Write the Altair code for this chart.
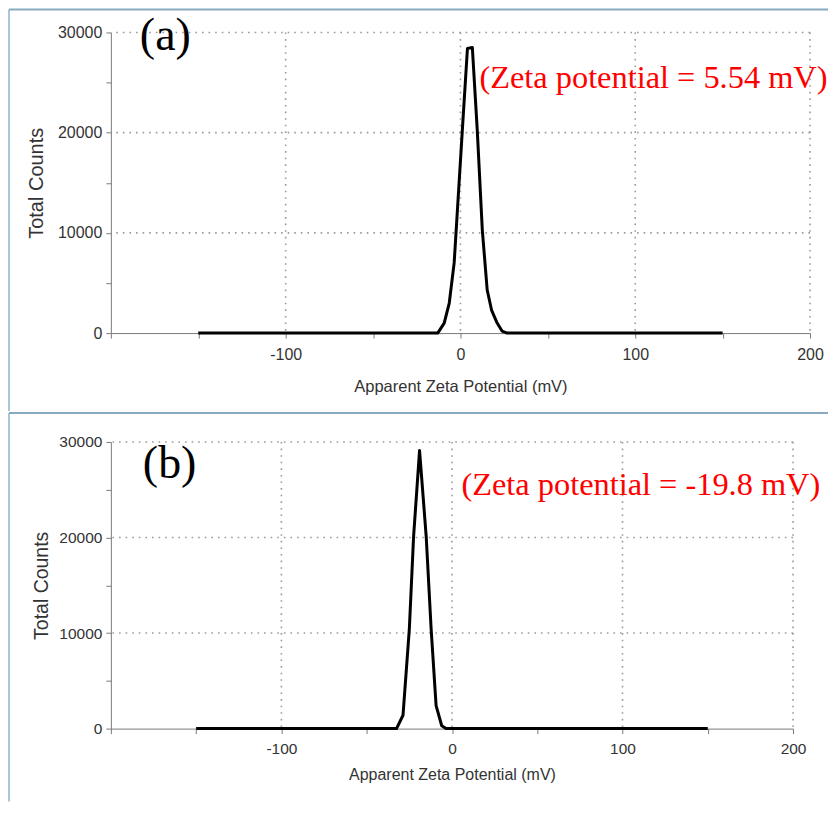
import altair as alt
import pandas as pd

# ---- data ----
a_mv = [-150, -13, -9.3, -6.4, -3.6, 1.1, 4.0, 6.8, 9.6, 12.5, 15.3, 17.8, 21, 23.8, 26.7, 150]
a_counts = [0, 0, 1000, 3000, 7000, 20300, 28400, 28500, 20300, 10300, 4300, 2300, 1000, 200, 0, 0]

b_mv = [-150, -32.5, -28.7, -25, -22.5, -19, -15.1, -12.2, -9.3, -6, -3.5, 150]
b_counts = [0, 0, 1400, 10400, 20100, 29100, 20100, 10400, 2400, 300, 0, 0]

x_ticks = [-200, -150, -100, -50, 0, 50, 100, 150, 200]
y_ticks = [0, 5000, 10000, 15000, 20000, 25000, 30000]
x_grid = [-100, 0, 100, 200]
y_grid = [10000, 20000, 30000]

panel_labels = ["(a)", "(b)"]
notes = ["(Zeta potential = 5.54 mV)", "(Zeta potential = -19.8 mV)"]

X_TITLE = "Apparent Zeta Potential (mV)"
Y_TITLE = "Total Counts"
BORDER = "#a9c7da"
SEP = "#86aac0"
TXT = "#333333"
GRID = "#9a9a9a"
AXC = "#7a7a7a"


def panel(mv, counts, W, H, label, note, lab_xy, note_xy, box, fs, yfs, xtp, ytp):
    left, top, bottom, right = box
    xs = alt.Scale(domain=[-200, 200], nice=False, zero=False)
    ys = alt.Scale(domain=[0, 30000], nice=False)

    df = pd.DataFrame({"x": mv, "y": counts})
    gx = pd.DataFrame({"x": x_grid})
    gy = pd.DataFrame({"y": y_grid})

    x_axis = alt.Axis(
        values=x_ticks,
        labelExpr="(datum.value % 100 == 0 && datum.value > -200) ? '' + datum.value : ''",
        grid=False, domainColor=AXC, tickColor=AXC, tickSize=5,
        labelFont="Liberation Sans", labelFontSize=fs, labelColor=TXT,
        labelPadding=8, title=X_TITLE, titleFont="Liberation Sans",
        titleFontSize=fs + 0.5, titleFontWeight="normal", titleColor=TXT,
        titlePadding=xtp, labelFlush=False,
    )
    y_axis = alt.Axis(
        values=y_ticks,
        labelExpr="(datum.value % 10000 == 0) ? '' + datum.value : ''",
        grid=False, domainColor=AXC, tickColor=AXC, tickSize=5,
        labelFont="Liberation Sans", labelFontSize=fs, labelColor=TXT,
        labelPadding=4, title=Y_TITLE, titleFont="Liberation Sans",
        titleFontSize=yfs, titleFontWeight="normal", titleColor=TXT,
        titlePadding=ytp, labelFlush=False,
    )

    border_left = alt.Chart(pd.DataFrame({"k": [0]})).mark_rule(
        color=BORDER, strokeWidth=2).encode(
        x=alt.value(left), y=alt.value(top), y2=alt.value(bottom))
    border_top = alt.Chart(pd.DataFrame({"k": [0]})).mark_rule(
        color=SEP, strokeWidth=2).encode(
        x=alt.value(left), x2=alt.value(right), y=alt.value(top))

    grid_x = alt.Chart(gx).mark_rule(color=GRID, strokeWidth=1.6, strokeDash=[1.6, 5]).encode(
        x=alt.X("x:Q", scale=xs, axis=x_axis))
    grid_y = alt.Chart(gy).mark_rule(color=GRID, strokeWidth=1.6, strokeDash=[1.6, 5]).encode(
        y=alt.Y("y:Q", scale=ys, axis=y_axis))

    line = alt.Chart(df).mark_line(color="black", strokeWidth=3, strokeJoin="round").encode(
        x=alt.X("x:Q", scale=xs, axis=x_axis),
        y=alt.Y("y:Q", scale=ys, axis=y_axis),
        order=alt.Order("x:Q"),
    )

    lab = alt.Chart(pd.DataFrame({"t": [label]})).mark_text(
        font="Liberation Serif", fontSize=46, color="black", align="left",
        baseline="alphabetic").encode(
        text="t:N", x=alt.value(lab_xy[0]), y=alt.value(lab_xy[1]))
    nt = alt.Chart(pd.DataFrame({"t": [note]})).mark_text(
        font="Liberation Serif", fontSize=32.4, color="#ff0000", align="left",
        baseline="alphabetic").encode(
        text="t:N", x=alt.value(note_xy[0]), y=alt.value(note_xy[1]))

    return alt.layer(border_left, border_top, grid_x, grid_y, line, lab, nt).properties(
        width=W, height=H)


# both plot areas start at page x ~111; left border at page x 9; right end at page ~829
top = panel(a_mv, a_counts, 700, 301, panel_labels[0], notes[0],
            (29, 18), (369, 56), (-102, -23, 379, 718), 16, 20, 16, 11)
bottom = panel(b_mv, b_counts, 683, 287, panel_labels[1], notes[1],
               (32, 36), (351, 53), (-102, -29, 360, 718), 15.5, 19.5, 9, 7)

chart = alt.vconcat(top, bottom, spacing=0).configure(
    padding=0
).configure_view(stroke=None)

chart.save("out.html", embed_options={"renderer": "svg", "actions": False})
